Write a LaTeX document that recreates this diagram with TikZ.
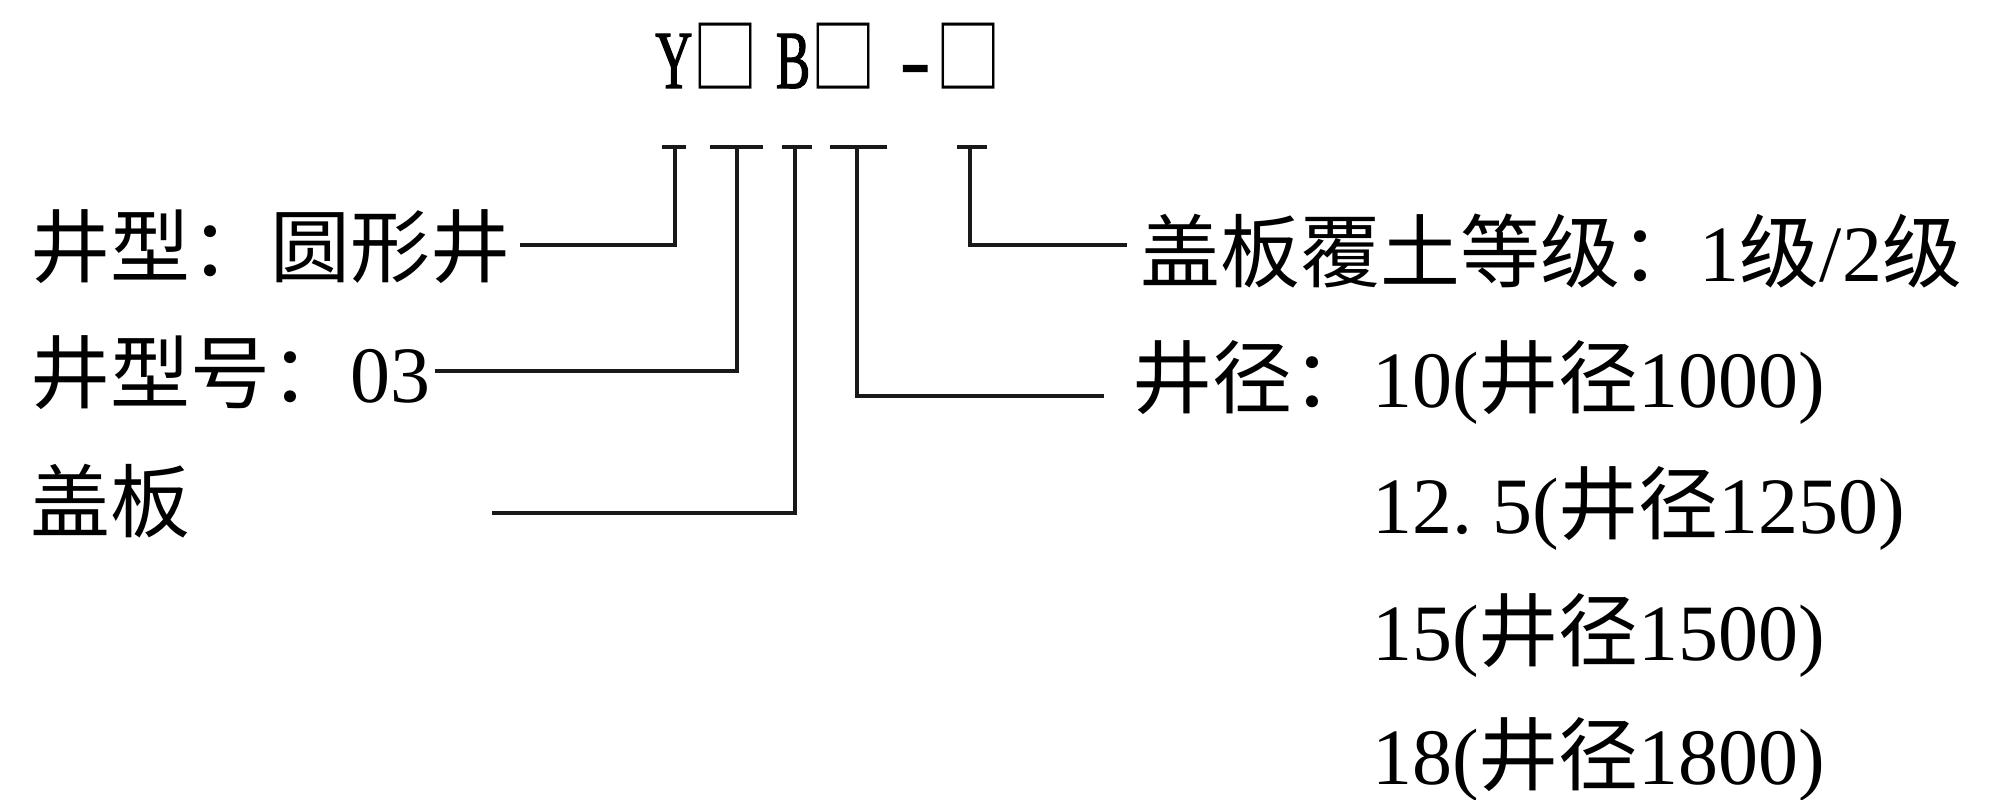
\documentclass[tikz,border=0pt]{standalone}
\usepackage{fontspec}
\setmainfont{Liberation Serif}
\newfontfamily\cjk{Noto Sans CJK SC}
\newfontfamily\codefont[FakeStretch=0.62,FakeBold=1.5]{Liberation Serif}
\newfontfamily\boxfont[FakeStretch=0.8]{Noto Sans CJK SC}
\usetikzlibrary{calc}
\begin{document}
\begin{tikzpicture}[x=0.02cm,y=-0.02cm,
  lab/.style={anchor=base west, inner sep=0pt, font=\fontsize{45.5}{50}\selectfont},
  code/.style={anchor=base west, inner sep=0pt, font=\fontsize{47}{50}\selectfont},
  conn/.style={line width=2.1pt, black!90}]
\useasboundingbox (0,0) rectangle (1989,800);

% code
\node[code] (code) at (655,88) {\codefont Y\boxfont □\hspace{10pt}\codefont B\boxfont □\hspace{14pt}\codefont\scalebox{1.7}[1]{-}\hspace{3pt}\boxfont □};

% left labels
\node[lab] (l1) at (30,277) {\cjk 井型：圆形井};
\node[lab] (l2) at (30,403) {\cjk 井型号：\rmfamily 03};
\node[lab] (l3) at (30,532) {\cjk 盖板};

% right labels
\node[lab] (r1) at (1140,282) {\cjk 盖板覆土等级：\rmfamily 1{\cjk 级}/2{\cjk 级}};
\node[lab] (r2) at (1132,408) {\cjk 井径：\rmfamily 10({\cjk 井径}1000)};
\node[lab] (r3) at (1372,534) {12.\kern0.25em5({\cjk 井径}1250)};
\node[lab] (r4) at (1372,660) {15({\cjk 井径}1500)};
\node[lab] (r5) at (1372,784) {18({\cjk 井径}1800)};

% tick tops and free ends
\coordinate (k1) at (675,147);
\coordinate (k2) at (737,147);
\coordinate (k3) at (795,147);
\coordinate (k4) at (857,147);
\coordinate (k5) at (970,147);
\coordinate (e1) at (520,245);
\coordinate (e2) at (435,371);
\coordinate (e3) at (492,513);
\coordinate (e4) at (1104,396);
\coordinate (e5) at (1127,245);

\draw[conn] ($(k1)+(-13,0)$) -- ($(k1)+(11,0)$);
\draw[conn] ($(k2)+(-27,0)$) -- ($(k2)+(26,0)$);
\draw[conn] ($(k3)+(-13,0)$) -- ($(k3)+(17,0)$);
\draw[conn] ($(k4)+(-27,0)$) -- ($(k4)+(30,0)$);
\draw[conn] ($(k5)+(-13,0)$) -- ($(k5)+(17,0)$);

\draw[conn] (k1) |- (e1);
\draw[conn] (k2) |- (e2);
\draw[conn] (k3) |- (e3);
\draw[conn] (k4) |- (e4);
\draw[conn] (k5) |- (e5);
\end{tikzpicture}
\end{document}
